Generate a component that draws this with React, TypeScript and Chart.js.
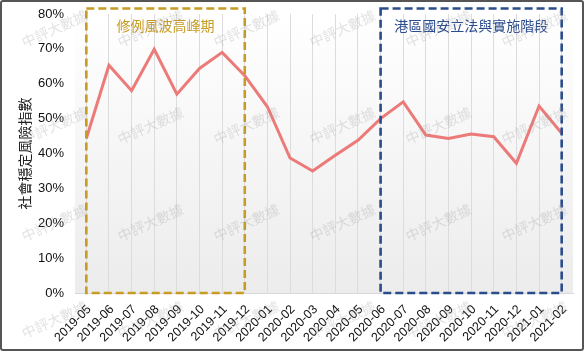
import React, { useEffect, useRef } from "react";
import { Chart, registerables } from "chart.js";

Chart.register(...registerables);

const categories = [
  "2019-05", "2019-06", "2019-07", "2019-08", "2019-09", "2019-10", "2019-11", "2019-12",
  "2020-01", "2020-02", "2020-03", "2020-04", "2020-05", "2020-06", "2020-07", "2020-08",
  "2020-09", "2020-10", "2020-11", "2020-12", "2021-01", "2021-02",
];
const riskIndex = [
  44.3, 65.3, 58.0, 69.9, 57.0, 64.4, 69.0, 62.3,
  53.4, 38.7, 35.0, 39.5, 43.8, 50.0, 54.8, 45.3,
  44.3, 45.6, 44.8, 37.2, 53.6, 45.8,
];
const yTickValues = [0, 10, 20, 30, 40, 50, 60, 70, 80];
const periodLabels = ["修例風波高峰期", "港區國安立法與實施階段"];
const periodStarts = ["2019-05", "2020-06"];
const periodEnds = ["2019-12", "2021-02"];
const periodColors = ["#c69c22", "#2b4c8c"];
const yAxisTitle = "社會穩定風險指數";
const watermarkText = "中評大數據";

const FONT = '"Liberation Sans", "Noto Sans CJK TC", sans-serif';

const bgPlugin = {
  id: "bgGradient",
  beforeDraw(chart: any) {
    const { ctx, chartArea } = chart;
    const g = ctx.createLinearGradient(0, chartArea.top, 0, chartArea.bottom);
    g.addColorStop(0, "#ffffff");
    g.addColorStop(1, "#ececec");
    ctx.save();
    ctx.fillStyle = g;
    ctx.fillRect(chartArea.left, chartArea.top, chartArea.right - chartArea.left, chartArea.bottom - chartArea.top);
    ctx.restore();
  },
};

const periodPlugin = {
  id: "periods",
  afterDatasetsDraw(chart: any) {
    const { ctx, chartArea, scales } = chart;
    const xs = scales.x;
    const ys = scales.y;
    ctx.save();
    periodLabels.forEach((label, i) => {
      const x0 = xs.getPixelForValue(categories.indexOf(periodStarts[i]));
      const x1 = xs.getPixelForValue(categories.indexOf(periodEnds[i]));
      const top = chartArea.top - 5.5;
      const bottom = ys.getPixelForValue(0);
      ctx.strokeStyle = periodColors[i];
      ctx.lineWidth = 2.6;
      ctx.setLineDash([8, 4]);
      ctx.strokeRect(x0, top, x1 - x0, bottom - top);
      ctx.setLineDash([]);
      ctx.fillStyle = periodColors[i];
      ctx.font = `14px ${FONT}`;
      ctx.textAlign = "center";
      ctx.textBaseline = "middle";
      ctx.fillText(label, (x0 + x1) / 2, top + 19);
    });
    ctx.restore();
  },
};

const watermarkPlugin = {
  id: "watermark",
  afterDraw(chart: any) {
    const { ctx } = chart;
    ctx.save();
    ctx.font = `14px ${FONT}`;
    ctx.fillStyle = "rgba(150,150,150,0.28)";
    ctx.textAlign = "center";
    ctx.textBaseline = "middle";
    for (let i = 0; i < 6; i++) {
      for (let j = 0; j < 4; j++) {
        const cx = 53 + 96 * i;
        const cy = 28 + 97 * j;
        ctx.save();
        ctx.translate(cx, cy);
        ctx.rotate(-24 * Math.PI / 180);
        ctx.fillText(watermarkText, 0, 0);
        ctx.restore();
      }
    }
    ctx.restore();
  },
};

export default function App() {
  const ref = useRef<HTMLCanvasElement | null>(null);
  useEffect(() => {
    if (!ref.current) return;
    const chart = new Chart(ref.current, {
      type: "line",
      data: {
        labels: categories,
        datasets: [
          {
            data: riskIndex,
            borderColor: "#ec7a78",
            borderWidth: 3,
            pointRadius: 0,
            tension: 0,
            fill: false,
          },
        ],
      },
      options: {
        animation: false,
        responsive: false,
        layout: { padding: { left: 0, right: 9, top: 12, bottom: 0 } },
        plugins: { legend: { display: false }, tooltip: { enabled: false } },
        scales: {
          x: {
            offset: true,
            grid: { display: true, color: "#dcdcdc", drawTicks: false, tickLength: 0, offset: false },
            border: { display: true, color: "#d8d8d8" },
            ticks: {
              color: "#111",
              font: { size: 12.5, family: FONT },
              maxRotation: 45,
              minRotation: 45,
              autoSkip: false,
              padding: 9,
              labelOffset: 3,
            },
            afterFit: (s: any) => { s.height = 56; s.paddingLeft = 0; s.paddingRight = 0; },
          },
          y: {
            min: 0,
            max: 80,
            afterBuildTicks: (s: any) => { s.ticks = yTickValues.map((v) => ({ value: v })); },
            grid: { display: false, drawTicks: false },
            border: { display: false },
            ticks: {
              color: "#111",
              font: { size: 13, family: FONT },
              padding: 11,
              callback: (v: any) => `${v}%`,
            },
            title: {
              display: true,
              text: yAxisTitle,
              color: "#222",
              font: { size: 14, family: FONT },
              padding: { top: 16, bottom: 0 },
            },
            afterFit: (s: any) => { s.width = 73; s.paddingTop = 0; s.paddingBottom = 0; },
          },
        },
      },
      plugins: [bgPlugin, periodPlugin, watermarkPlugin],
    });
    return () => chart.destroy();
  }, []);
  return (
    <div
      style={{
        position: "fixed",
        left: 0,
        top: 0,
        width: 584,
        height: 351,
        boxSizing: "border-box",
        border: "2px solid #555",
        borderRadius: 3,
        background: "#fff",
      }}
    >
      <canvas ref={ref} width={580} height={347} style={{ display: "block", width: 580, height: 347 }} />
    </div>
  );
}
